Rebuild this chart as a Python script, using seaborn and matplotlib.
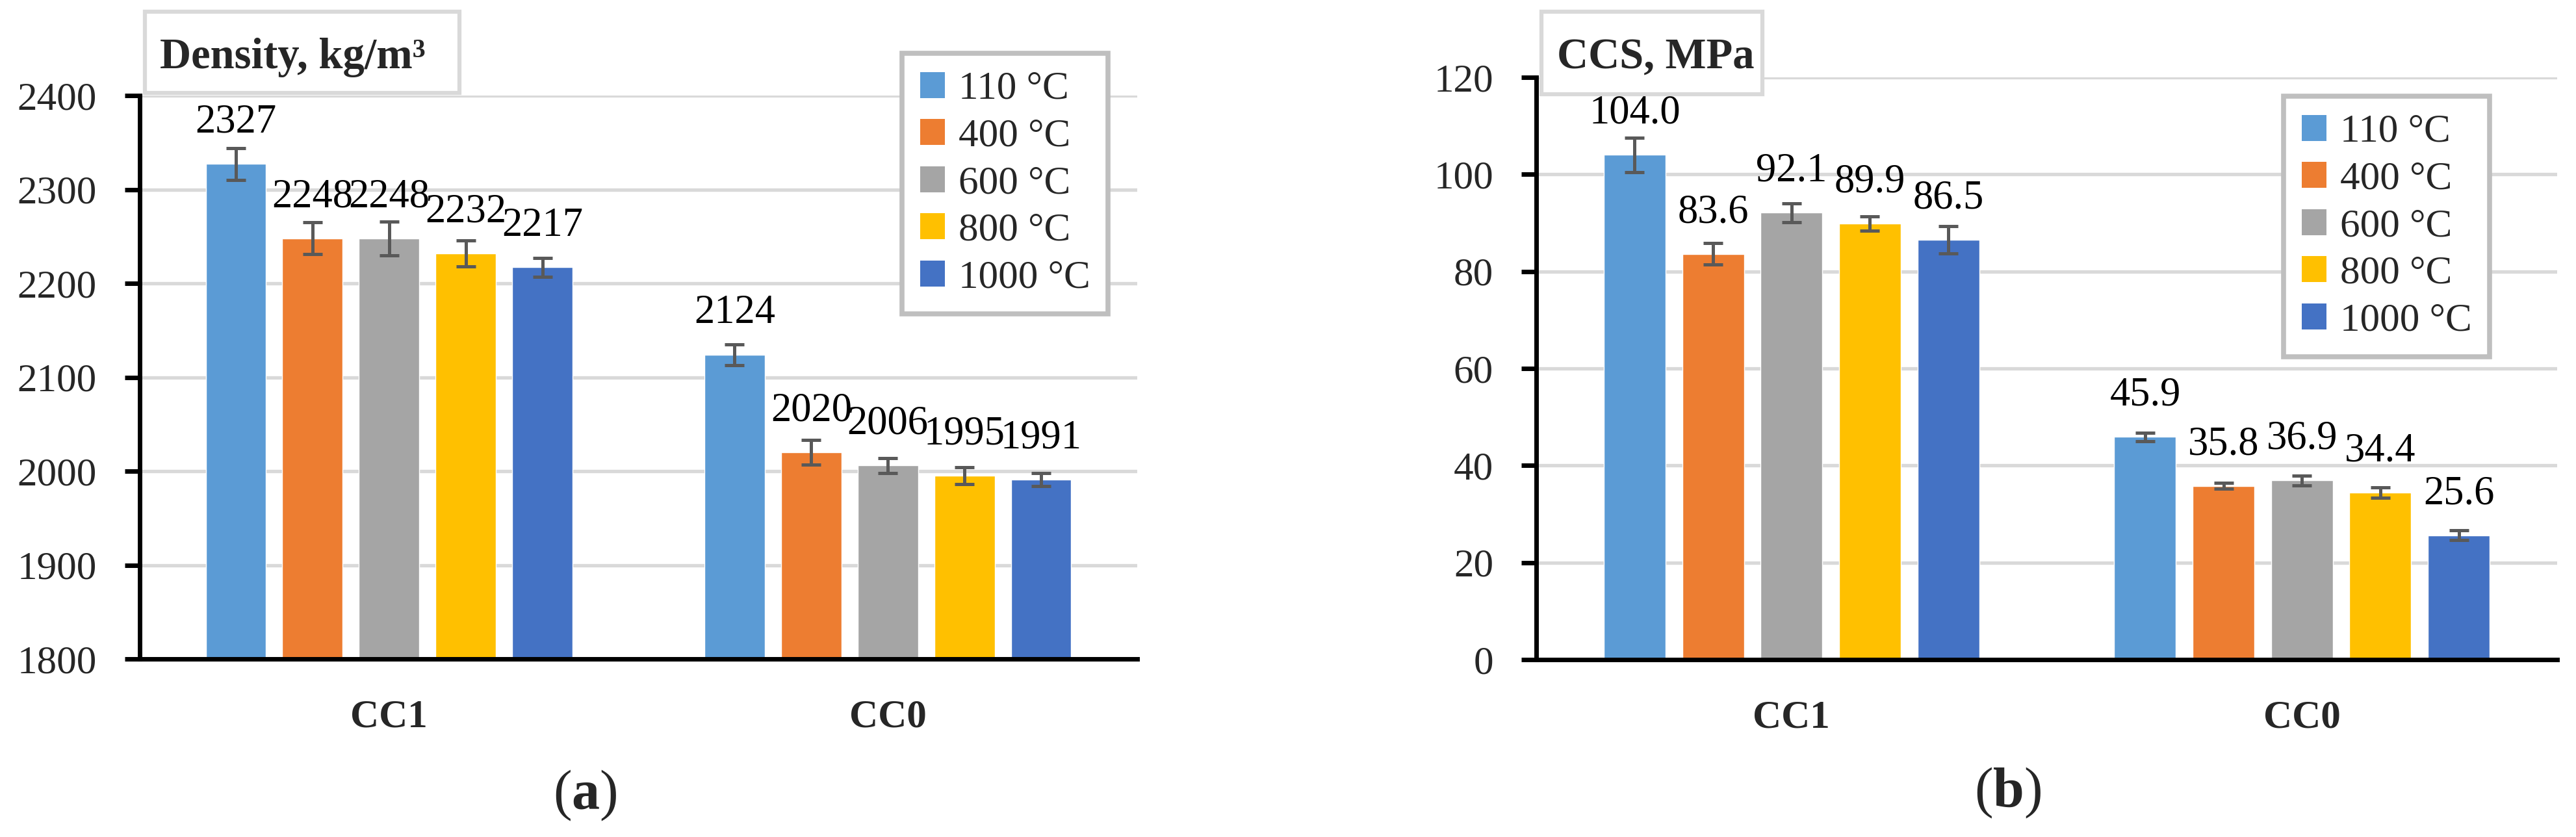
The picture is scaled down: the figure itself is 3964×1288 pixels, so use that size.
import numpy as np
import pandas as pd
import matplotlib
matplotlib.use("Agg")
import matplotlib.pyplot as plt
import seaborn as sns
from matplotlib.patches import Rectangle, Patch

# ---------------- data ----------------
mixes = ["CC1", "CC0"]
temps = ["110 °C", "400 °C", "600 °C", "800 °C", "1000 °C"]
colors = ["#5B9BD5", "#ED7D31", "#A5A5A5", "#FFC000", "#4472C4"]

density_cc1 = [2327, 2248, 2248, 2232, 2217]
density_cc0 = [2124, 2020, 2006, 1995, 1991]
density_err_cc1 = [17, 17, 18, 14, 10]
density_err_cc0 = [11, 13, 8, 9, 7]

ccs_cc1 = [104.0, 83.6, 92.1, 89.9, 86.5]
ccs_cc0 = [45.9, 35.8, 36.9, 34.4, 25.6]
ccs_err_cc1 = [3.5, 2.2, 1.9, 1.5, 2.8]
ccs_err_cc0 = [0.9, 0.6, 1.0, 1.1, 1.0]

density_ticks = [1800, 1900, 2000, 2100, 2200, 2300, 2400]
ccs_ticks = [0, 20, 40, 60, 80, 100, 120]

# ---------------- style ----------------
sns.set_style("white")
plt.rcParams["font.family"] = ["Liberation Serif", "DejaVu Serif"]
plt.rcParams["mathtext.fontset"] = "custom"
plt.rcParams["mathtext.rm"] = "Liberation Serif"
plt.rcParams["mathtext.bf"] = "Liberation Serif:bold"

W, H = 3964, 1288
DPI = 100
fig = plt.figure(figsize=(W / DPI, H / DPI), dpi=DPI)
fig.patch.set_facecolor("white")


def fx(px):
    return px / W


def fy(py):
    return 1 - py / H


def make_df(v1, v0):
    return pd.DataFrame({
        "mix": [m for m in mixes for _ in temps],
        "temp": temps * 2,
        "value": list(v1) + list(v0),
    })


def panel(rect, v1, v0, e1, e0, ylim, yticks, fmt, legend_xy, title, title_box, title_xy):
    ax = fig.add_axes(rect)
    df = make_df(v1, v0)
    sns.barplot(data=df, x="mix", y="value", hue="temp", order=mixes, hue_order=temps,
                palette=colors, saturation=1, width=0.768, gap=0.212, errorbar=None,
                legend=False, ax=ax, zorder=2)
    bar_containers = list(ax.containers)
    errs = [[e1[i], e0[i]] for i in range(len(temps))]
    for i, cont in enumerate(bar_containers):
        for j, bar in enumerate(cont.patches):
            x = bar.get_x() + bar.get_width() / 2
            h = bar.get_height()
            ax.errorbar(x, h, yerr=errs[i][j], fmt="none", ecolor="#595959",
                        elinewidth=3.6, capsize=11, capthick=3.6, zorder=3)
            ax.annotate(fmt(h), (x, h), xytext=(0, 35), textcoords="offset points",
                        ha="center", va="baseline", fontsize=45, color="black", zorder=4)
    ax.set_xlim(-0.5, 1.5)
    ax.set_ylim(*ylim)
    ax.set_yticks(yticks)
    ax.set_xlabel("")
    ax.set_ylabel("")
    ax.set_axisbelow(True)
    ax.yaxis.grid(True, color="#D9D9D9", linewidth=3.8)
    ax.xaxis.grid(False)
    for s in ["top", "right"]:
        ax.spines[s].set_visible(False)
    for s in ["left", "bottom"]:
        ax.spines[s].set_color("black")
        ax.spines[s].set_linewidth(5)
        ax.spines[s].set_zorder(3)
    ax.tick_params(axis="y", length=16.5, width=5, pad=31, labelsize=44, direction="out",
                   color="black", left=True)
    ax.tick_params(axis="x", length=0, pad=44, labelsize=44)
    for t in ax.get_xticklabels():
        t.set_fontweight("bold")
    handles = [Patch(facecolor=c, edgecolor="none") for c in colors]
    leg = ax.legend(handles, temps, loc="upper left",
                    bbox_to_anchor=(fx(legend_xy[0]), fy(legend_xy[1])),
                    bbox_transform=fig.transFigure, borderaxespad=0, fontsize=44,
                    handlelength=0.63, handleheight=0.63, handletextpad=0.34,
                    labelspacing=0.28, borderpad=0.45, fancybox=False, framealpha=1)
    leg.get_frame().set_edgecolor("#BFBFBF")
    leg.get_frame().set_linewidth(5.5)
    leg.set_zorder(10)
    # title box
    bx0, by0, bx1, by1 = title_box
    fig.add_artist(Rectangle((fx(bx0), fy(by1)), (bx1 - bx0) / W, (by1 - by0) / H,
                             transform=fig.transFigure, facecolor="white",
                             edgecolor="#D9D9D9", linewidth=4.5, zorder=5))
    fig.text(fx(title_xy[0]), fy(title_xy[1]), title, fontsize=48, fontweight="bold",
             ha="left", va="baseline", zorder=6)
    return ax


panel([fx(215), fy(1014), 1535 / W, 867 / H], density_cc1, density_cc0,
      density_err_cc1, density_err_cc0, (1800, 2400), density_ticks,
      lambda v: f"{v:.0f}", (1388, 82), "Density, kg/m³", (223, 18, 707, 143), (246, 105))

panel([fx(2364), fy(1015), 1571 / W, 896 / H], ccs_cc1, ccs_cc0,
      ccs_err_cc1, ccs_err_cc0, (0, 120), ccs_ticks,
      lambda v: f"{v:.1f}", (3514, 148), "CCS, MPa", (2372, 18, 2712, 145), (2396, 105))

fig.text(fx(900), fy(1224), r"($\mathbf{a}$)", fontsize=62, ha="center", va="center")
fig.text(fx(3090), fy(1220), r"($\mathbf{b}$)", fontsize=62, ha="center", va="center")

fig.savefig("out.png", dpi=DPI, facecolor="white")
